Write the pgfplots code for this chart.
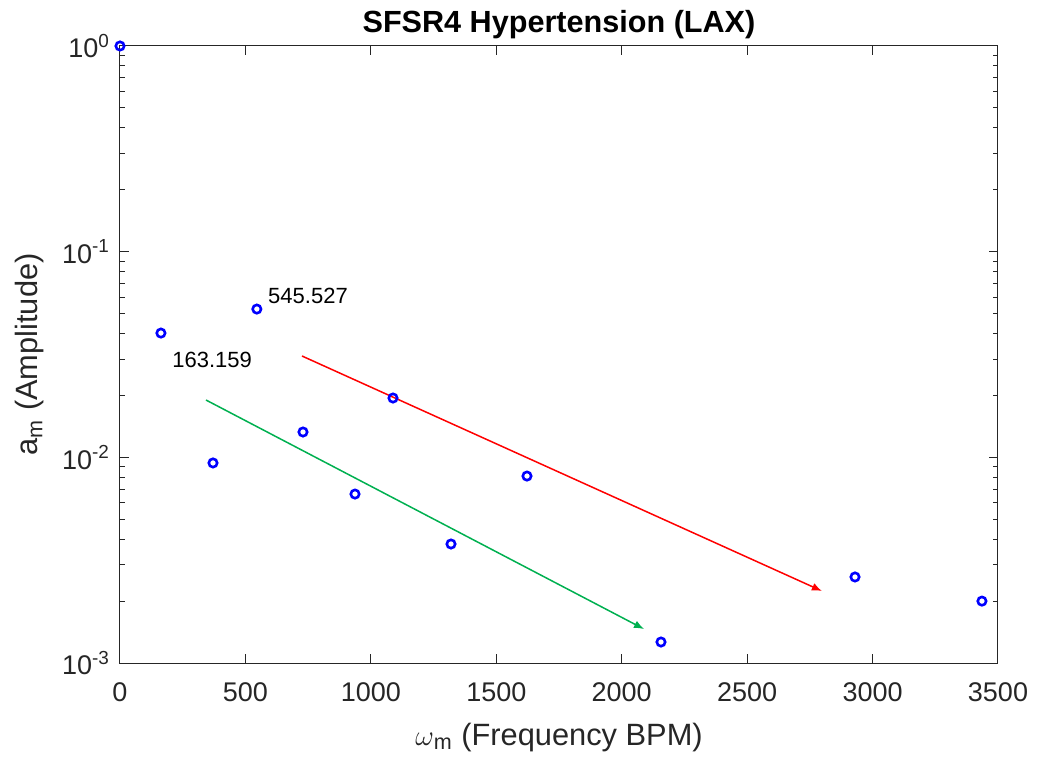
\documentclass[border=0pt]{standalone}
\usepackage{pgfplots}
\pgfplotsset{compat=1.18}
\usepackage{fontspec}
\setmainfont{Liberation Sans}
\usetikzlibrary{arrows.meta}
\definecolor{axgray}{RGB}{38,38,38}
\definecolor{mgreen}{RGB}{0,176,80}
\begin{document}
\begin{tikzpicture}
\useasboundingbox (-60pt,-49.5pt) rectangle (470.5pt,331.5pt);
\begin{axis}[
  at={(0,0)}, anchor=south west,
  scale only axis, width=439pt, height=308.5pt,
  ymode=log, xmin=0, xmax=3500, ymin=1e-3, ymax=1,
  xtick={0,500,1000,1500,2000,2500,3000,3500},
  xticklabels={0,500,1000,1500,2000,2500,3000,3500},
  ytick={1e-3,1e-2,1e-1,1},
  yticklabels={10\textsuperscript{-3},10\textsuperscript{-2},10\textsuperscript{-1},10\textsuperscript{0}},
  minor ytick={2e-3,3e-3,4e-3,5e-3,6e-3,7e-3,8e-3,9e-3,2e-2,3e-2,4e-2,5e-2,6e-2,7e-2,8e-2,9e-2,2e-1,3e-1,4e-1,5e-1,6e-1,7e-1,8e-1,9e-1},
  tick align=inside,
  major tick length=4.5pt, minor tick length=2.5pt,
  axis line style={axgray, line width=0.5pt},
  tick style={axgray, line width=0.5pt},
  ticklabel style={font=\fontsize{13.5}{16}\selectfont, text=axgray},
  xticklabel style={anchor=base, yshift=-19pt},
  yticklabel style={anchor=east, xshift=-1.5pt},
  every axis title shift=0pt,
  title={\textbf{SFSR4 Hypertension (LAX)}},
  title style={at={(axis description cs:0.5,1.0211)}, anchor=base, font=\fontsize{15.3}{18}\selectfont, text=black},
  xlabel={$\omega$\textsubscript{m} (Frequency BPM)},
  xlabel style={at={(axis description cs:0.5,-0.1329)}, anchor=base, font=\fontsize{15.4}{18}\selectfont, text=axgray},
  ylabel={a\textsubscript{m} (Amplitude)},
  ylabel style={at={(axis description cs:-0.1025,0.5)}, anchor=center, rotate=0, font=\fontsize{15.4}{18}\selectfont, text=axgray},
  clip=false,
]
\addplot[only marks, mark=o, mark size=2.1pt, blue, mark options={line width=1.3pt}] coordinates {
  (0,1)
  (163.159,0.0402)
  (370.7,0.00939)
  (545.527,0.0526)
  (729.5,0.01328)
  (936.8,0.00663)
  (1088.3,0.01943)
  (1319.5,0.00379)
  (1622.4,0.00811)
  (2156.6,0.001265)
  (2930,0.00262)
  (3436,0.00200)
};
\addplot[red, line width=0.75pt, -{Latex[length=5pt,width=4pt]}] coordinates {(725.5,0.0311) (2798,0.00224)};
\addplot[mgreen, line width=0.75pt, -{Latex[length=5pt,width=4pt]}] coordinates {(342.8,0.0190) (2088.8,0.001463)};
\node[anchor=west, inner sep=0pt, xshift=5.5pt, yshift=6.5pt, font=\fontsize{11}{13}\selectfont] at (axis cs:545.527,0.0526) {545.527};
\node[anchor=west, inner sep=0pt, xshift=5.5pt, yshift=-13.5pt, font=\fontsize{11}{13}\selectfont] at (axis cs:163.159,0.0402) {163.159};
\end{axis}
\end{tikzpicture}
\end{document}
